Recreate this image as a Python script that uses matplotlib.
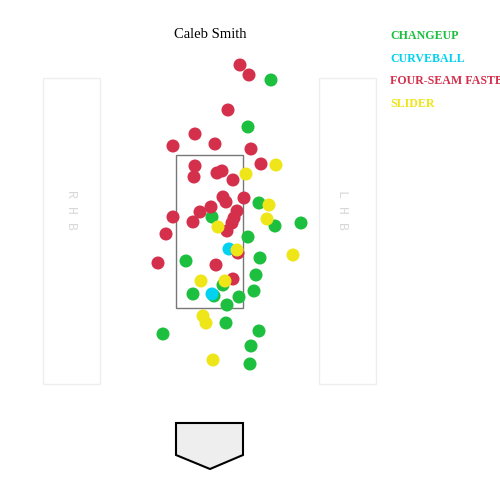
import matplotlib
matplotlib.use("Agg")
import matplotlib.pyplot as plt
from matplotlib.patches import Rectangle, Polygon

plt.rcParams['font.family'] = ['Liberation Serif', 'DejaVu Serif']

pitcher = "Caleb Smith"

# pitch locations, screen units (x to the right, y downward)
changeup_x = [271, 248, 212, 259, 275, 301, 248, 260, 186, 256, 223, 254, 193, 214, 239,
              227, 226, 163, 259, 251, 250]
changeup_y = [80, 127, 217, 203, 226, 223, 237, 258, 261, 275, 285, 291, 294, 296, 297,
              305, 323, 334, 331, 346, 364]

curveball_x = [229, 212]
curveball_y = [249, 294]

fastball_x = [240, 249, 228, 195, 173, 215, 251, 261, 195, 217, 222, 194, 233, 223, 226,
              244, 211, 200, 173, 193, 237, 234, 232, 227, 166, 238, 158, 216, 233]
fastball_y = [65, 75, 110, 134, 146, 144, 149, 164, 166, 173, 171, 177, 180, 197, 202,
              198, 207, 212, 217, 222, 211, 218, 223, 231, 234, 253, 263, 265, 279]

slider_x = [276, 246, 269, 267, 218, 237, 293, 201, 225, 203, 206, 213]
slider_y = [165, 174, 205, 219, 227, 250, 255, 281, 281, 316, 323, 360]

pitch_names = ["CHANGEUP", "CURVEBALL", "FOUR-SEAM FASTBALL", "SLIDER"]
pitch_colors = ["#1dbf3e", "#00d2f0", "#d42f4b", "#eee619"]

fig = plt.figure(figsize=(5, 5), dpi=100)
ax = fig.add_axes([0, 0, 1, 1])
ax.set_xlim(0, 500)
ax.set_ylim(500, 0)
ax.axis('off')

# batter boxes
ax.add_patch(Rectangle((43, 78), 57, 306, fill=False, edgecolor='#eeeeee', lw=1))
ax.add_patch(Rectangle((319, 78), 57, 306, fill=False, edgecolor='#eeeeee', lw=1))
ax.text(71, 210, "R H B", rotation=-90, ha='center', va='center', color='#d8d8d8',
        fontsize=9.5, family='Liberation Mono')
ax.text(342, 210, "L H B", rotation=-90, ha='center', va='center', color='#d8d8d8',
        fontsize=9.5, family='Liberation Mono')

# strike zone
ax.add_patch(Rectangle((176, 155), 67, 153, fill=False, edgecolor='#777777', lw=1))

# home plate
ax.add_patch(Polygon([(176, 423), (243, 423), (243, 455), (210, 469), (176, 455)],
                     closed=True, facecolor='#eeeeee', edgecolor='black', lw=1.5))

series = [(changeup_x, changeup_y), (curveball_x, curveball_y),
          (fastball_x, fastball_y), (slider_x, slider_y)]
for (xs, ys), c in zip(series, pitch_colors):
    ax.scatter(xs, ys, s=88, color=c, edgecolors='none', zorder=3)

ax.text(210, 35, pitcher, ha='center', va='center', fontsize=10.5, color='black')

# legend (the long label runs off the right edge, as in the original)
for i, (name, c) in enumerate(zip(pitch_names, pitch_colors)):
    ax.text(390, 36 + i * 22.7, name, ha='left', va='center', color=c,
            fontsize=8.6, fontweight='bold')

fig.savefig("out.png", dpi=100)
